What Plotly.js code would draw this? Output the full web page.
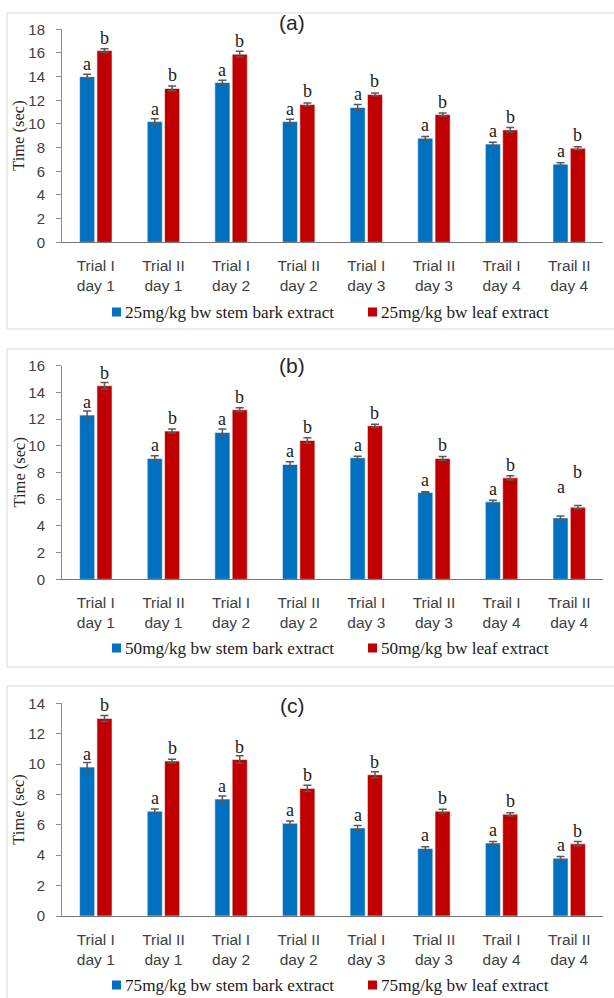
<!DOCTYPE html>
<html>
<head>
<meta charset="utf-8">
<script src="https://cdn.plot.ly/plotly-3.0.1.min.js"></script>
<style>
  html, body { margin: 0; padding: 0; background: #ffffff; }
  #chart { width: 614px; height: 998px; }
</style>
</head>
<body>
<div id="chart"></div>
<script>
// ---- data ----
const categories = [
  'Trial I<br>day 1', 'Trial II<br>day 1', 'Trial I<br>day 2', 'Trial II<br>day 2',
  'Trial I<br>day 3', 'Trial II<br>day 3', 'Trail I<br>day 4', 'Trail II<br>day 4'
];

const panelLabels = ['(a)', '(b)', '(c)'];

const stemNames = ['25mg/kg bw stem bark extract', '50mg/kg bw stem bark extract', '75mg/kg bw stem bark extract'];
const leafNames = ['25mg/kg bw leaf extract', '50mg/kg bw leaf extract', '75mg/kg bw leaf extract'];

// 25 mg/kg
const stem25 = [14.0, 10.2, 13.5, 10.2, 11.4, 8.8, 8.3, 6.6];
const stem25Err = [0.2, 0.25, 0.2, 0.2, 0.25, 0.15, 0.15, 0.12];
const leaf25 = [16.2, 13.0, 15.9, 11.65, 12.5, 10.8, 9.5, 7.95];
const leaf25Err = [0.15, 0.2, 0.25, 0.12, 0.12, 0.12, 0.2, 0.12];

// 50 mg/kg
const stem50 = [12.3, 9.05, 11.0, 8.6, 9.1, 6.5, 5.8, 4.6];
const stem50Err = [0.3, 0.2, 0.25, 0.2, 0.12, 0.05, 0.12, 0.15];
const leaf50 = [14.5, 11.1, 12.7, 10.4, 11.5, 9.05, 7.6, 5.4];
const leaf50Err = [0.25, 0.15, 0.15, 0.2, 0.12, 0.15, 0.15, 0.12];

// 75 mg/kg
const stem75 = [9.8, 6.9, 7.7, 6.1, 5.8, 4.45, 4.8, 3.8];
const stem75Err = [0.3, 0.15, 0.2, 0.15, 0.15, 0.1, 0.1, 0.12];
const leaf75 = [13.0, 10.2, 10.3, 8.4, 9.3, 6.9, 6.7, 4.75];
const leaf75Err = [0.2, 0.12, 0.25, 0.2, 0.2, 0.12, 0.1, 0.15];

// significance letters above each bar
const stemLetters = ['a', 'a', 'a', 'a', 'a', 'a', 'a', 'a'];
const leafLetters = ['b', 'b', 'b', 'b', 'b', 'b', 'b', 'b'];

const yMax = [18, 16, 14];

// ---- layout geometry (pixels) ----
const W = 614, H = 998;
const px = x => x / W;
const py = y => 1 - y / H;

const panels = [
  { stem: stem25, stemErr: stem25Err, leaf: leaf25, leafErr: leaf25Err,
    top: 29.3, zero: 242.3, frameTop: 13, frameBottom: 329, titleY: 22, legendY: 312, lift: {} },
  { stem: stem50, stemErr: stem50Err, leaf: leaf50, leafErr: leaf50Err,
    top: 365.7, zero: 579.3, frameTop: 349, frameBottom: 667, titleY: 365, legendY: 648, lift: { 7: [18, 22] } },
  { stem: stem75, stemErr: stem75Err, leaf: leaf75, leafErr: leaf75Err,
    top: 703.3, zero: 916, frameTop: 686, frameBottom: 1010, titleY: 705, legendY: 985, lift: {} }
];

const BLUE = '#0070c0';
const RED = '#c00000';
const BARGAP = 0.487;
const BARGROUPGAP = 0.13;
const barOffset = (1 - BARGAP) / 4;

const axisLeft = 62, axisRight = 603;
const sansFont = 'Liberation Sans, Arial, sans-serif';
const serifFont = 'Liberation Serif, Times New Roman, serif';

const traces = [];
const annotations = [];
const shapes = [];
const layout = {
  width: W, height: H,
  margin: { l: 0, r: 0, t: 0, b: 0 },
  paper_bgcolor: '#ffffff',
  plot_bgcolor: '#ffffff',
  barmode: 'group',
  bargap: BARGAP,
  bargroupgap: BARGROUPGAP,
  showlegend: false,
  font: { family: sansFont, color: '#404040' }
};

panels.forEach((p, i) => {
  const sfx = i === 0 ? '' : String(i + 1);
  const xa = 'x' + sfx, ya = 'y' + sfx;

  const errStyle = arr => ({
    type: 'data', array: arr, visible: true,
    color: '#595959', thickness: 1.5, width: 4
  });

  traces.push({
    type: 'bar', name: stemNames[i], x: categories, y: p.stem,
    xaxis: xa, yaxis: ya,
    marker: { color: BLUE, line: { color: 'rgba(255,255,255,0.55)', width: 1 } },
    error_y: errStyle(p.stemErr), hoverinfo: 'none'
  });
  traces.push({
    type: 'bar', name: leafNames[i], x: categories, y: p.leaf,
    xaxis: xa, yaxis: ya,
    marker: { color: RED, line: { color: 'rgba(255,255,255,0.55)', width: 1 } },
    error_y: errStyle(p.leafErr), hoverinfo: 'none'
  });

  layout['xaxis' + sfx] = {
    domain: [px(axisLeft), px(axisRight)],
    anchor: ya,
    type: 'category',
    showline: true, linecolor: '#767676', linewidth: 1,
    ticks: '', showgrid: false, zeroline: false,
    tickfont: { family: sansFont, size: 15.5, color: '#404040' },
    ticklabelstandoff: 9,
    fixedrange: true
  };
  layout['yaxis' + sfx] = {
    domain: [py(p.zero), py(p.top)],
    anchor: xa,
    range: [0, yMax[i]],
    dtick: 2,
    showline: true, linecolor: '#8c8c8c', linewidth: 1,
    ticks: 'outside', ticklen: 5, tickcolor: '#8c8c8c', tickwidth: 1,
    showgrid: false, zeroline: false,
    tickfont: { family: sansFont, size: 15, color: '#404040' },
    ticklabelstandoff: 8,
    fixedrange: true
  };

  // panel frame
  shapes.push({
    type: 'rect', xref: 'paper', yref: 'paper',
    x0: px(7), x1: px(640), y0: py(p.frameBottom), y1: py(p.frameTop),
    line: { color: '#d9d9d9', width: 1 }, fillcolor: 'rgba(0,0,0,0)', layer: 'below'
  });

  // panel label
  annotations.push({
    xref: 'paper', yref: 'paper', x: px(292), y: py(p.titleY),
    text: panelLabels[i], showarrow: false, xanchor: 'center', yanchor: 'middle',
    font: { family: sansFont, size: 21, color: '#262626' }
  });

  // y-axis title
  annotations.push({
    xref: 'paper', yref: 'paper', x: px(19), y: py((p.top + p.zero) / 2),
    text: 'Time (sec)', showarrow: false, textangle: -90,
    xanchor: 'center', yanchor: 'middle',
    font: { family: serifFont, size: 16.5, color: '#262626' }
  });

  // significance letters
  categories.forEach((c, k) => {
    const lift = p.lift[k] || [0, 0];
    annotations.push({
      xref: xa, yref: ya, x: k - barOffset, y: p.stem[k],
      text: stemLetters[k], showarrow: false, xanchor: 'center', yanchor: 'bottom',
      yshift: 1 + lift[0],
      font: { family: serifFont, size: 18, color: '#1a1a1a' }
    });
    annotations.push({
      xref: xa, yref: ya, x: k + barOffset, y: p.leaf[k],
      text: leafLetters[k], showarrow: false, xanchor: 'center', yanchor: 'bottom',
      yshift: 1 + lift[1],
      font: { family: serifFont, size: 18, color: '#1a1a1a' }
    });
  });

  // legend: colour keys and series names
  const keys = [[112, BLUE, stemNames[i]], [368, RED, leafNames[i]]];
  keys.forEach(([kx, col, label]) => {
    shapes.push({
      type: 'rect', xref: 'paper', yref: 'paper',
      x0: px(kx), x1: px(kx + 9), y0: py(p.legendY + 4.5), y1: py(p.legendY - 4.5),
      line: { width: 0 }, fillcolor: col
    });
    annotations.push({
      xref: 'paper', yref: 'paper', x: px(kx + 11), y: py(p.legendY),
      text: label, showarrow: false, xanchor: 'left', yanchor: 'middle',
      font: { family: serifFont, size: 17.2, color: '#1a1a1a' }
    });
  });
});

layout.annotations = annotations;
layout.shapes = shapes;

Plotly.newPlot('chart', traces, layout, { displayModeBar: false, staticPlot: true });
</script>
</body>
</html>
